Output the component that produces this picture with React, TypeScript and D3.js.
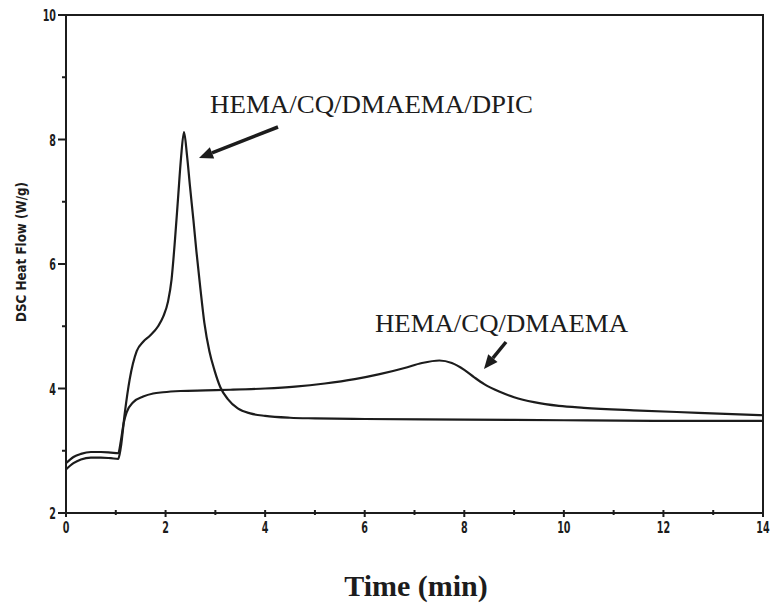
import React from "react";
import * as d3 from "d3";

const dpicX = [0, 0.15, 0.3, 0.5, 0.7, 0.9, 1.05, 1.1, 1.18, 1.28, 1.42, 1.55, 1.69, 1.85, 1.95, 2.05, 2.12, 2.19, 2.25, 2.31, 2.37, 2.43, 2.49, 2.56, 2.62, 2.7, 2.78, 2.88, 2.98, 3.1, 3.25, 3.45, 3.7, 4.0, 4.5, 5.0, 6.0, 8.0, 10.0, 12.0, 14.0];
const dpicY = [2.7, 2.8, 2.86, 2.89, 2.89, 2.88, 2.87, 3.05, 3.6, 4.15, 4.6, 4.75, 4.85, 5.0, 5.15, 5.4, 5.75, 6.4, 7.05, 7.7, 8.12, 7.75, 7.25, 6.7, 6.2, 5.6, 5.05, 4.6, 4.3, 4.02, 3.83, 3.68, 3.6, 3.56, 3.53, 3.52, 3.51, 3.5, 3.49, 3.48, 3.48];

const dmaemaX = [0, 0.15, 0.3, 0.5, 0.7, 0.9, 1.05, 1.1, 1.16, 1.22, 1.35, 1.55, 1.75, 1.95, 2.3, 2.8, 3.3, 4.0, 4.6, 5.2, 5.8, 6.3, 6.8, 7.15, 7.5, 7.75, 8.0, 8.2, 8.4, 8.7, 9.0, 9.4, 9.9, 10.4, 11.4, 12.7, 14.0];
const dmaemaY = [2.8, 2.9, 2.95, 2.98, 2.98, 2.97, 2.96, 3.15, 3.45, 3.62, 3.78, 3.87, 3.92, 3.94, 3.96, 3.97, 3.98, 4.0, 4.03, 4.08, 4.15, 4.23, 4.33, 4.41, 4.45, 4.41, 4.3, 4.18, 4.07, 3.95, 3.86, 3.78, 3.72, 3.69, 3.65, 3.61, 3.57];

const xTicks = [0, 2, 4, 6, 8, 10, 12, 14];
const xMinor = [1, 3, 5, 7, 9, 11, 13];
const yTicks = [2, 4, 6, 8, 10];
const yMinor = [3, 5, 7, 9];

const labelDpic = "HEMA/CQ/DMAEMA/DPIC";
const labelDmaema = "HEMA/CQ/DMAEMA";
const xTitle = "Time (min)";
const yTitle = "DSC Heat Flow (W/g)";

export default function App() {
  const W = 782, H = 613;
  const x = d3.scaleLinear().domain([0, 14]).range([66, 763]);
  const y = d3.scaleLinear().domain([2, 10]).range([513, 15]);
  const line = d3.line<[number, number]>().x(d => x(d[0])).y(d => y(d[1])).curve(d3.curveMonotoneX);
  const dpic = line(dpicX.map((v, i) => [v, dpicY[i]] as [number, number])) || "";
  const dma = line(dmaemaX.map((v, i) => [v, dmaemaY[i]] as [number, number])) || "";
  const ink = "#1c1c1c";
  const tickFont = { fontFamily: "DejaVu Sans", fontWeight: 700, fontSize: 16, fill: ink } as const;

  const arrow = (x1: number, y1: number, x2: number, y2: number) => {
    const ang = Math.atan2(y2 - y1, x2 - x1);
    const L = 14, Wd = 6;
    const bx = x2 - L * Math.cos(ang), by = y2 - L * Math.sin(ang);
    const px = -Math.sin(ang) * Wd, py = Math.cos(ang) * Wd;
    return (
      <g>
        <line x1={x1} y1={y1} x2={bx} y2={by} stroke={ink} strokeWidth={3.5} />
        <polygon points={`${x2},${y2} ${bx + px},${by + py} ${bx - px},${by - py}`} fill={ink} />
      </g>
    );
  };

  return (
    <svg width={W} height={H} style={{ position: "absolute", left: 0, top: 0, background: "#fff" }}>
      <rect x={0} y={0} width={W} height={H} fill="#fff" />
      <rect x={x(0)} y={y(10)} width={x(14) - x(0)} height={y(2) - y(10)} fill="none" stroke={ink} strokeWidth={2} />
      {yTicks.map(t => (
        <g key={"yt" + t}>
          <line x1={x(0) - 8} x2={x(0)} y1={y(t)} y2={y(t)} stroke={ink} strokeWidth={2} />
          <g transform={`translate(${x(0) - 10},${y(t) + 6}) scale(0.6,1)`}>
            <text textAnchor="end" {...tickFont}>{t}</text>
          </g>
        </g>
      ))}
      {yMinor.map(t => (
        <line key={"ym" + t} x1={x(0) - 4} x2={x(0)} y1={y(t)} y2={y(t)} stroke={ink} strokeWidth={2} />
      ))}
      {xTicks.map(t => (
        <g key={"xt" + t}>
          <line x1={x(t)} x2={x(t)} y1={y(2) - 3} y2={y(2) + 4} stroke={ink} strokeWidth={2} />
          <g transform={`translate(${x(t)},${y(2) + 20}) scale(0.6,1)`}>
            <text textAnchor="middle" {...tickFont}>{t}</text>
          </g>
        </g>
      ))}
      {xMinor.map(t => (
        <line key={"xm" + t} x1={x(t)} x2={x(t)} y1={y(2) - 3} y2={y(2) + 2} stroke={ink} strokeWidth={2} />
      ))}
      <g transform={`translate(26,252) rotate(-90)`}>
        <text textAnchor="middle" fontFamily="DejaVu Sans" fontWeight={700} fontSize={14} fill={ink} textLength={140} lengthAdjust="spacingAndGlyphs">{yTitle}</text>
      </g>
      <path d={dma} fill="none" stroke={ink} strokeWidth={2.2} />
      <path d={dpic} fill="none" stroke={ink} strokeWidth={2.2} />
      <text x={210} y={113} fontFamily="Liberation Serif" fontSize={25} fill={ink} textLength={323} lengthAdjust="spacingAndGlyphs">{labelDpic}</text>
      <text x={375} y={332} fontFamily="Liberation Serif" fontSize={25} fill={ink} textLength={253} lengthAdjust="spacingAndGlyphs">{labelDmaema}</text>
      {arrow(278, 127, 199, 158)}
      {arrow(506, 342, 484, 369)}
      <text x={416} y={596} textAnchor="middle" fontFamily="Liberation Serif" fontWeight={700} fontSize={30} fill={ink}>{xTitle}</text>
    </svg>
  );
}
